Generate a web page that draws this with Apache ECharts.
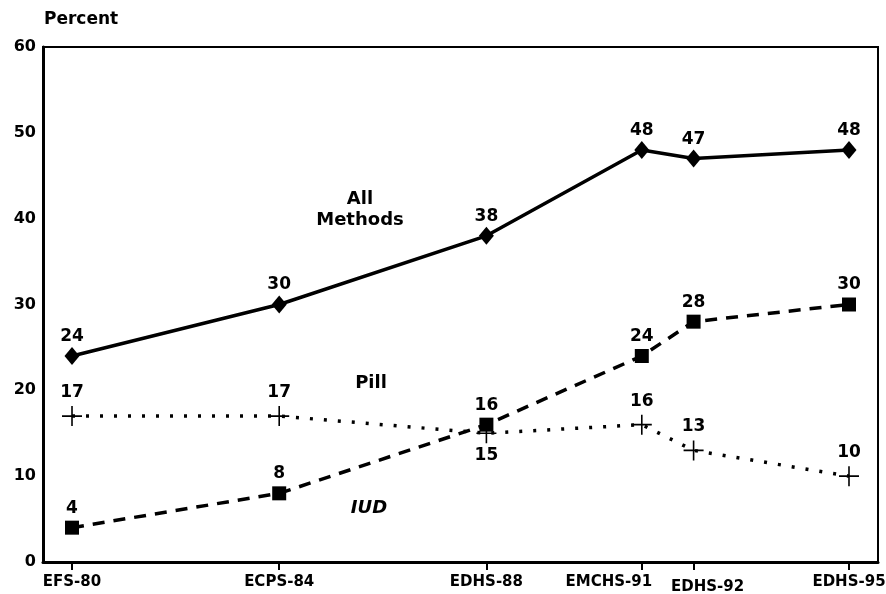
<!DOCTYPE html>
<html>
<head>
<meta charset="utf-8">
<script src="https://cdn.jsdelivr.net/npm/echarts@6/dist/echarts.min.js"></script>
<style>
  html, body { margin: 0; padding: 0; background: #fff; }
  #chart { width: 886px; height: 594px; }
</style>
</head>
<body>
<div id="chart"></div>
<script>
// survey year and survey name
const years = [1980, 1984, 1988, 1991, 1992, 1995]
const surveys = ['EFS-80', 'ECPS-84', 'EDHS-88', 'EMCHS-91', 'EDHS-92', 'EDHS-95']
// percent using
const allMethods = [24, 30, 38, 48, 47, 48]
const pill = [17, 17, 15, 16, 13, 10]
const iud = [4, 8, 16, 24, 28, 30]
const yTicks = [0, 10, 20, 30, 40, 50, 60]

const FONT = '"DejaVu Sans", "Liberation Sans", Arial, sans-serif'
const plus = 'path://M9.2,0h1.6v20h-1.6z M0,9.2h20v1.6h-20z'

const pairs = (vals) => years.map((y, i) => [y, vals[i]])

const chart = echarts.init(document.getElementById('chart'), null, { renderer: 'canvas' })

const baseLabel = {
  show: true,
  position: 'top',
  color: '#000',
  fontFamily: FONT,
  fontWeight: 'bold',
  fontSize: 17
}

const tickFont = { fontFamily: FONT, fontWeight: 'bold', fontSize: 15, color: '#000' }

const option = {
  animation: false,
  backgroundColor: '#fff',
  grid: {
    left: 43, top: 47, right: 8, bottom: 32,
    outerBoundsMode: 'none',
    containLabel: false,
    show: true, borderColor: '#000', borderWidth: 2
  },
  xAxis: {
    type: 'value',
    min: 1979.44,
    max: 1995.56,
    splitLine: { show: false },
    axisLine: { lineStyle: { color: '#000', width: 3 } },
    axisTick: { show: true, customValues: years, length: 8, lineStyle: { color: '#000', width: 2 } },
    axisLabel: Object.assign({
      customValues: years,
      margin: 13,
      formatter: (v) => {
        const name = surveys[years.indexOf(Math.round(v))]
        if (name === 'EMCHS-91') return '{left|' + name + '}'
        if (name === 'EDHS-92') return '{low|' + name + '}'
        return name
      },
      rich: {
        left: Object.assign({ padding: [0, 66, 0, 0] }, tickFont),
        low: Object.assign({ padding: [5, 0, 0, 28] }, tickFont)
      }
    }, tickFont)
  },
  yAxis: {
    type: 'value',
    min: yTicks[0],
    max: yTicks[yTicks.length - 1],
    interval: 10,
    splitLine: { show: false },
    axisTick: { show: false },
    axisLine: { show: true, lineStyle: { color: '#000', width: 3 } },
    axisLabel: { margin: 7, color: '#000', fontFamily: FONT, fontWeight: 'bold', fontSize: 16 }
  },
  series: [
    {
      name: 'Pill',
      type: 'line',
      data: pairs(pill).map((d, i) => i === 2 ? { value: d, label: { position: 'bottom', distance: 4 } } : d),
      symbol: plus,
      symbolSize: 20,
      itemStyle: { color: '#000' },
      lineStyle: { color: '#000', width: 3.5, type: [3, 11] },
      label: Object.assign({}, baseLabel, { distance: 5 }),
      z: 2
    },
    {
      name: 'IUD',
      type: 'line',
      data: pairs(iud),
      symbol: 'rect',
      symbolSize: 14,
      itemStyle: { color: '#000' },
      lineStyle: { color: '#000', width: 3.5, type: [12, 9] },
      label: Object.assign({}, baseLabel, { distance: 4 }),
      z: 3
    },
    {
      name: 'All Methods',
      type: 'line',
      data: pairs(allMethods),
      symbol: 'diamond',
      symbolSize: [15, 18],
      itemStyle: { color: '#000' },
      lineStyle: { color: '#000', width: 3.5 },
      label: Object.assign({}, baseLabel, { distance: 2 }),
      z: 4
    }
  ],
  graphic: [
    { type: 'text', left: 44, top: 11, style: { text: 'Percent', font: 'bold 17px ' + FONT, fill: '#000' } },
    { type: 'text', x: 360, y: 210, style: { text: 'All\nMethods', font: 'bold 18px ' + FONT, fill: '#000', align: 'center', verticalAlign: 'middle', lineHeight: 21 } },
    { type: 'text', x: 371, y: 383, style: { text: 'Pill', font: 'bold 18px ' + FONT, fill: '#000', align: 'center', verticalAlign: 'middle' } },
    { type: 'text', x: 369, y: 508, style: { text: 'IUD', font: 'italic bold 18px ' + FONT, fill: '#000', align: 'center', verticalAlign: 'middle' } }
  ]
}

chart.setOption(option)
</script>
</body>
</html>
